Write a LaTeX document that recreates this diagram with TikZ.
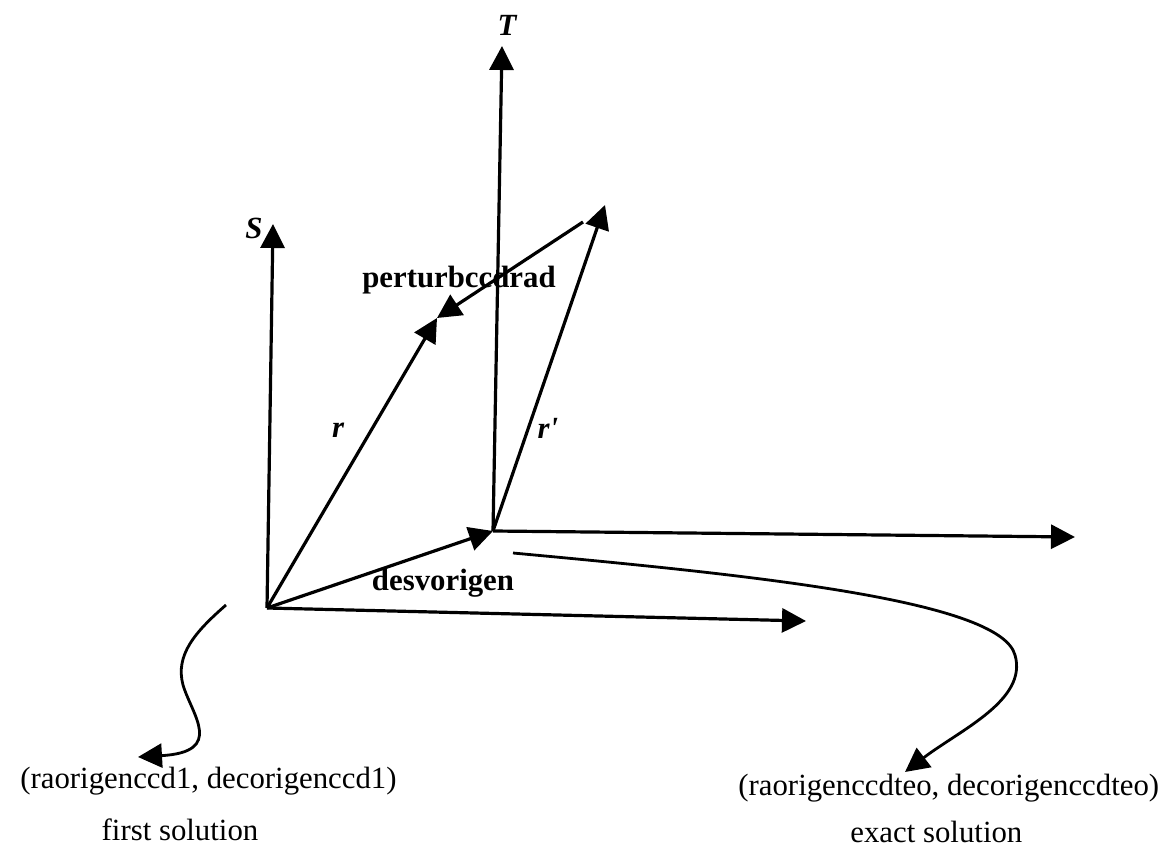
\documentclass[tikz,border=0pt]{standalone}
\usepackage{fontspec}
\setmainfont{Liberation Serif}
\usetikzlibrary{arrows.meta, positioning}

\begin{document}
\begin{tikzpicture}[x=0.5pt, y=-0.5pt,
    vec/.style={line width=1.6pt, -{Triangle[length=12pt, width=12pt]}},
    wiggle/.style={line width=1.4pt, -{Triangle[length=12pt, width=12pt]}},
    lbl/.style={font=\fontsize{15.4}{18}\selectfont, inner sep=0pt},
    blbl/.style={font=\fontsize{15.4}{18}\selectfont\bfseries, inner sep=0pt},
    axlbl/.style={font=\fontsize{15.4}{18}\selectfont\bfseries\itshape, inner sep=0pt}]
    % Frame
    \useasboundingbox (0,0) rectangle (1173,855);
    \fill[white] (0,0) rectangle (1173,855);

    % Origins and vector tips
    \coordinate (o1) at (267,608);
    \coordinate (o2) at (493,531);
    \coordinate (stip) at (273,224);
    \coordinate (ttip) at (502,46);
    \coordinate (x1tip) at (806,621);
    \coordinate (x2tip) at (1075,537);
    \coordinate (rtip) at (437,318);
    \coordinate (rptip) at (605,205);
    \coordinate (pstart) at (583,222);

    % Axes
    \draw[vec] (o1) -- (stip);
    \draw[vec] (o1) -- (x1tip);
    \draw[vec] (o2) -- (ttip);
    \draw[vec] (o2) -- (x2tip);

    % Vectors
    \draw[vec] (o1) -- (o2);
    \draw[vec] (o1) -- (rtip);
    \draw[vec] (o2) -- (rptip);
    \draw[vec] (pstart) -- (rtip);

    % Labels
    \node[axlbl] (slbl) at (254,228) {S};
    \node[axlbl] (tlbl) at (507,25) {T};
    \node[axlbl] (rlbl) at (338,430) {r};
    \node[axlbl] (rplbl) at (548,428) {r\textquotesingle};
    \node[blbl, anchor=base] (plbl) at (459,288) {perturbccdrad};
    \node[blbl, anchor=base] (dlbl) at (443,590) {desvorigen};

    % Solutions
    \node[lbl, anchor=base east] (sol1) at (397,788) {(raorigenccd1, decorigenccd1)};
    \node[lbl, anchor=base] (sol1txt) at (180,840) {first solution};
    \node[lbl, anchor=base west] (sol2) at (738,795) {(raorigenccdteo, decorigenccdteo)};
    \node[lbl, anchor=base west] (sol2txt) at (850,842) {exact solution};

    \coordinate (c1) at (226,605);
    \coordinate (c1end) at (138,757);
    \coordinate (c2) at (513,553);
    \coordinate (c2end) at (905,772);
    \draw[wiggle] (c1) .. controls (195,632) and (175,655) .. (183,685)
                       .. controls (192,715) and (225,752) .. (c1end);
    \draw[wiggle] (c2) .. controls (750,575) and (1000,600) .. (1015,655)
                       .. controls (1028,700) and (960,730) .. (c2end);
  \end{tikzpicture}
\end{document}
